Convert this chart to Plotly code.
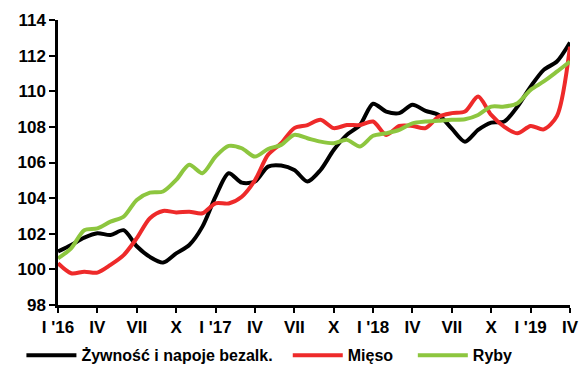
import plotly.graph_objects as go

# Monthly price indices, Jan 2016 - Apr 2019
months = list(range(40))
tick_labels = ["I '16", "IV", "VII", "X", "I '17", "IV", "VII", "X",
               "I '18", "IV", "VII", "X", "I '19", "IV"]

zywnosc = [101.0, 101.37, 101.78, 102.03, 101.93, 102.2, 101.3, 100.7, 100.38, 100.9,
           101.37, 102.4, 104.08, 105.4, 104.87, 104.93, 105.77, 105.83, 105.58, 104.93,
           105.58, 106.7, 107.55, 108.1, 109.3, 108.86, 108.77, 109.24, 108.9, 108.67,
           107.9, 107.17, 107.83, 108.24, 108.3, 109.14, 110.26, 111.2, 111.67, 112.74]

mieso = [100.34, 99.78, 99.87, 99.82, 100.25, 100.8, 101.75, 102.87, 103.28, 103.2,
         103.24, 103.15, 103.71, 103.7, 104.08, 105.0, 106.43, 107.08, 107.93, 108.1,
         108.4, 107.93, 108.1, 108.1, 108.3, 107.55, 108.05, 108.05, 107.93, 108.58,
         108.77, 108.86, 109.7, 108.67, 108.0, 107.64, 108.05, 107.86, 108.6, 112.5]

ryby = [100.62, 101.18, 102.2, 102.3, 102.68, 102.96, 103.9, 104.31, 104.37, 105.02,
        105.87, 105.4, 106.33, 106.93, 106.8, 106.33, 106.76, 106.99, 107.55, 107.36,
        107.17, 107.08, 107.27, 106.9, 107.5, 107.64, 107.83, 108.2, 108.3, 108.35,
        108.4, 108.43, 108.67, 109.14, 109.14, 109.33, 110.08, 110.55, 111.1, 111.67]

# name, values, colour, legend id, legend left edge (fraction of page width)
series = [
    ("Żywność i napoje bezalk.", zywnosc, "#000000", "legend", 0.037),
    ("Mięso", mieso, "#EE2A2A", "legend2", 0.497),
    ("Ryby", ryby, "#8DC63F", "legend3", 0.713),
]

FAMILY = "Liberation Sans, Arial, sans-serif"
tick_font = dict(family=FAMILY, size=17, color="#000000", weight="bold")
legend_font = dict(family=FAMILY, size=16, color="#000000", weight="bold")

fig = go.Figure()
legends = {}
for name, vals, color, leg, lx in series:
    fig.add_trace(go.Scatter(
        x=months, y=vals, name=name, mode="lines", legend=leg,
        line=dict(color=color, width=4, shape="spline", smoothing=0.8),
    ))
    legends[leg] = dict(
        orientation="h", xref="container", yref="container",
        x=lx, xanchor="left", y=0.045, yanchor="middle",
        font=legend_font, itemwidth=50, bgcolor="rgba(0,0,0,0)",
    )

fig.update_layout(
    width=579, height=372,
    margin=dict(l=58, r=9, t=20, b=67, autoexpand=False),
    paper_bgcolor="white", plot_bgcolor="white",
    font=tick_font,
    showlegend=True,
    **legends,
)
fig.update_xaxes(
    range=[0, 39], tickmode="array", tickvals=list(range(0, 40, 3)), ticktext=tick_labels,
    showgrid=False, zeroline=False, showline=True, linecolor="#000000", linewidth=2.5,
    ticks="outside", ticklen=5, tickwidth=2, tickcolor="#000000",
    tickfont=tick_font, automargin=False,
)
fig.update_yaxes(
    range=[98, 114], dtick=2, showgrid=False, zeroline=False, showline=True,
    linecolor="#000000", linewidth=2.5, ticks="outside", ticklen=6, tickwidth=2,
    tickcolor="#000000", tickfont=tick_font, automargin=False,
)

fig.write_html("out.html")
